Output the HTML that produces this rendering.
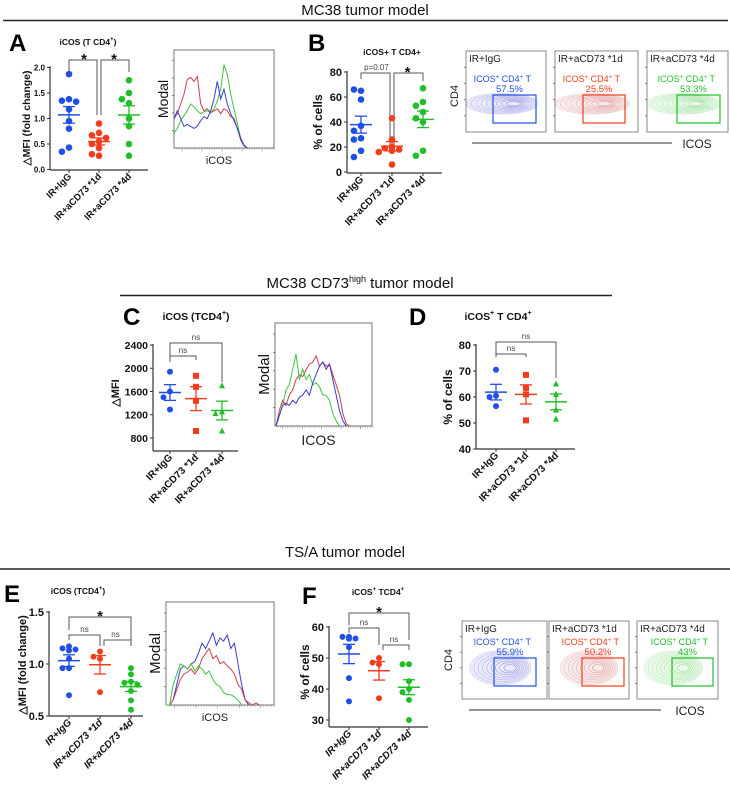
<!DOCTYPE html>
<html><head><meta charset="utf-8"><style>
html,body{margin:0;padding:0;background:#fff;}
svg{display:block;font-family:"Liberation Sans",Arial,sans-serif;}
</style></head><body>
<svg id="fig" width="730" height="789" viewBox="0 0 730 789" xmlns="http://www.w3.org/2000/svg">
<g>
<text x="365" y="15" font-size="15" text-anchor="middle" fill="#111">MC38 tumor model</text>
<line x1="3" y1="20.5" x2="728" y2="20.5" stroke="#222" stroke-width="1.5"/>
</g>
<g>
<text x="360" y="288" font-size="15" text-anchor="middle" fill="#111">MC38 CD73<tspan font-size="9" dy="-6">high</tspan><tspan dy="6"> tumor model</tspan></text>
<line x1="120" y1="295.5" x2="612" y2="295.5" stroke="#222" stroke-width="1.5"/>
</g>
<g>
<text x="345" y="557" font-size="15" text-anchor="middle" fill="#111">TS/A tumor model</text>
<line x1="0" y1="569" x2="730" y2="569" stroke="#222" stroke-width="1.5"/>
</g>
<g font-weight="bold" font-size="24" fill="#000">
<text x="9" y="51">A</text><text x="308" y="51">B</text>
<text x="123" y="325">C</text><text x="409" y="325">D</text>
<text x="4" y="602">E</text><text x="302" y="604">F</text>
</g>
</svg>
<script>
// ---- Data ----
const categories = ["IR+IgG","IR+aCD73 *1d","IR+aCD73 *4d"];
const aBlue=[1.87,1.38,1.35,1.33,1.18,0.95,0.8,0.43,0.35];
const aRed=[0.9,0.72,0.67,0.62,0.55,0.5,0.42,0.3,0.27];
const aGreen=[1.75,1.5,1.38,1.3,1.0,0.85,0.5,0.27];
const aTicks=["0.0","0.5","1.0","1.5","2.0"];
const bBlue=[65,66,58,37,33,27,26,17,12];
const bRed=[43,26,20,19,18,17,16,6];
const bGreen=[67,56,53,48,43,40,17,13];
const bTicks=["0","20","40","60","80"];
const cBlue=[1940,1600,1500,1290];
const cRed=[1870,1680,1440,920];
const cGreen=[1700,1250,1220,920];
const cTicks=["800","1200","1600","2000","2400"];
const dBlue=[70.5,60.5,60,56.5];
const dRed=[68.5,63.5,61,51];
const dGreen=[65,61,55,51.5];
const dTicks=["40","50","60","70","80"];
const eBlue=[1.17,1.15,1.14,1.13,1.05,0.96,0.96,0.7];
const eRed=[1.12,1.07,1.05,0.73];
const eGreen=[0.96,0.9,0.83,0.82,0.8,0.74,0.65,0.56];
const eTicks=["0.5","1.0","1.5"];
const fBlue=[56.8,56.8,56.3,56.2,53.5,43.5,36];
const fRed=[50,48.5,48,37];
const fGreen=[48,48,42.5,40,39,36.5,30];
const fTicks=["30","40","50","60"];
// histogram heights (fraction of modal) per fluorescence bin
const histARed=[.3,.35,.45,.55,.7,.72,.68,.73,.45,.38,.4,.36,.38,.4,.35,.4,.38,.32,.3,.2,.08,.02,0];
const histAGreen=[.15,.2,.28,.33,.38,.45,.42,.38,.35,.37,.38,.36,.4,.48,.6,.85,.75,.55,.4,.25,.1,.03,0];
const histABlue=[.3,.38,.3,.22,.24,.22,.2,.22,.28,.32,.3,.38,.5,.68,.5,.6,.45,.35,.28,.2,.1,.03,0];
const histCRed=[0,.15,.25,.2,.3,.35,.45,.5,.48,.55,.6,.62,.68,.58,.62,.58,.6,.5,.4,.3,.12,.02,0];
const histCGreen=[0,.1,.2,.35,.4,.55,.7,.45,.55,.45,.5,.4,.42,.38,.3,.3,.25,.12,.05,0];
const histCBlue=[0,.1,.2,.22,.2,.25,.22,.28,.3,.35,.3,.42,.5,.58,.62,.55,.6,.45,.3,.15,.05,0];
const histEBlue=[0,0,.05,.2,.35,.38,.35,.4,.42,.5,.6,.55,.62,.7,.58,.65,.62,.68,.55,.6,.4,.2,.05,0];
const histERed=[0,0,.05,.15,.25,.3,.32,.35,.3,.35,.45,.5,.55,.45,.48,.4,.42,.38,.35,.3,.2,.15,.05,.02,0,.02,0];
const histEGreen=[0,0,.2,.3,.4,.38,.35,.4,.33,.38,.35,.3,.33,.25,.2,.18,.12,.1,.1,.08,.05,0];
const flowPctB=["57.5%","25.5%","53.3%"];
const flowPctF=["55.9%","50.2%","43%"];

const NS="http://www.w3.org/2000/svg";
const svg=document.getElementById('fig');
const COLORS=["#1f4fe6","#f23c1c","#1fbf2a"];
const HCOL=["#3b3bd0","#c8414a","#3fc23f"];
function mk(tag,attrs,parent){const e=document.createElementNS(NS,tag);for(const k in attrs)e.setAttribute(k,attrs[k]);(parent||svg).appendChild(e);return e;}
function txt(s,attrs,parent){const e=mk('text',attrs,parent);e.textContent=s;return e;}

function scatter(cfg){
  const g=mk('g',{});
  
  
  const ys=v=>cfg.y0+(v-cfg.vmin)/(cfg.vmax-cfg.vmin)*(cfg.y1-cfg.y0);
  const xs=i=>cfg.cx0+i*cfg.dx;
  const ax=mk('line',{x1:cfg.ax,y1:cfg.axTop,x2:cfg.ax,y2:cfg.axBot,stroke:'#333','stroke-width':1.2},g);
  
  
  const bx=mk('line',{x1:cfg.ax,y1:cfg.axBot,x2:cfg.axRight,y2:cfg.axBot,stroke:'#333','stroke-width':1.2},g);
  
  
  cfg.ticks.forEach(t=>{
    const v=parseFloat(t),y=ys(v);
    mk('line',{x1:cfg.ax-3,y1:y,x2:cfg.ax,y2:y,stroke:'#333','stroke-width':1},g);
    const tl=txt(t,{x:cfg.ax-5,y:y+cfg.tfs*0.36,'font-size':cfg.tfs,'font-weight':'bold','text-anchor':'end',fill:'#111'},g);
    
    
  });
  categories.forEach((c,i)=>{
    const x=xs(i);
    mk('line',{x1:x,y1:cfg.axBot,x2:x,y2:cfg.axBot+3,stroke:'#333','stroke-width':1},g);
    const tx=x+3,ty=cfg.axBot+7;
    const cl=txt(c,{x:tx,y:ty,'font-size':cfg.cfs,'font-weight':'bold','text-anchor':'end',fill:'#111','font-style':cfg.italic?'italic':'normal',transform:`rotate(-45 ${tx} ${ty})`},g);
    
    
  });
  const yt=txt(cfg.ytitle,{x:0,y:0,'font-size':cfg.yfs,'font-weight':'bold','text-anchor':'middle',fill:'#111',transform:`translate(${cfg.ytx} ${cfg.yty}) rotate(-90)`},g);
  
  
  const ti=mk('text',{x:cfg.titleX,y:cfg.titleY,'font-size':cfg.titleFs,'font-weight':'bold','text-anchor':'middle',fill:'#111'},g);
  ti.innerHTML=cfg.title;
  
  
  cfg.brackets.forEach(b=>{
    const p=mk('path',{d:`M${xs(b.i)+(b.o1||0)} ${b.yl} V${b.top} H${xs(b.j)+(b.o2||0)} V${b.yr}`,fill:'none',stroke:'#555','stroke-width':1},g);
    
    
    const lx=b.lx!==undefined?b.lx:(xs(b.i)+xs(b.j))/2;
    const bl=txt(b.label,{x:lx,y:b.top-(b.label==='*'?-4:3),'font-size':b.label==='*'?15:b.fs||8,'font-weight':b.label==='*'?'bold':'normal','text-anchor':'middle',fill:b.label==='*'?'#111':'#444'},g);
    
    
  });
  cfg.series.forEach((arr,i)=>{
    const sg=mk('g',{},g);
    
    
    const col=COLORS[i],cx=xs(i),placed=[];
    const r=cfg.r;
    arr.forEach(v=>{
      const y=ys(v);let off=0;
      const cands=[0,-2*r-0.5,2*r+0.5,-r-0.3,r+0.3,-4*r,4*r];
      for(const o of cands){if(placed.every(p=>Math.hypot(p[0]-(cx+o),p[1]-y)>=2*r)){off=o;break;}}
      placed.push([cx+off,y]);
      let m;
      const shape=cfg.shapes?cfg.shapes[i]:'c';
      if(shape==='s')m=mk('rect',{x:cx+off-r,y:y-r,width:2*r,height:2*r,fill:col},sg);
      else if(shape==='t')m=mk('path',{d:`M${cx+off} ${y-r-0.5} L${cx+off+r} ${y+r-0.5} L${cx+off-r} ${y+r-0.5}Z`,fill:col},sg);
      else m=mk('circle',{cx:cx+off,cy:y,r:r,fill:col},sg);
      
      
    });
    const n=arr.length,mean=arr.reduce((a,b)=>a+b,0)/n;
    const sd=Math.sqrt(arr.reduce((a,b)=>a+(b-mean)*(b-mean),0)/(n-1)),sem=sd/Math.sqrt(n);
    const ym=ys(mean),yh=ys(mean+sem),yl=ys(mean-sem);
    const ml=mk('line',{x1:cx-cfg.mw,y1:ym,x2:cx+cfg.mw,y2:ym,stroke:col,'stroke-width':1.5},sg);
    
    
    mk('line',{x1:cx,y1:yh,x2:cx,y2:yl,stroke:col,'stroke-width':1.3},sg);
    mk('line',{x1:cx-cfg.mw*0.55,y1:yh,x2:cx+cfg.mw*0.55,y2:yh,stroke:col,'stroke-width':1.3},sg);
    mk('line',{x1:cx-cfg.mw*0.55,y1:yl,x2:cx+cfg.mw*0.55,y2:yl,stroke:col,'stroke-width':1.3},sg);
  });
}

function histo(cfg){
  const g=mk('g',{});
  
  
  const w=cfg.x1-cfg.x0,h=cfg.y1-cfg.y0;
  const b=mk('rect',{x:cfg.x0,y:cfg.y0,width:w,height:h,fill:'none',stroke:'#777','stroke-width':1},g);
  
  
  for(let k=1;k<6;k++){const y=cfg.y1-k*h/5.6;mk('line',{x1:cfg.x0-2,y1:y,x2:cfg.x0,y2:y,stroke:'#777'},g);}
  for(let k=0;k<40;k++){const x=cfg.x0+3+k*w/40;mk('line',{x1:x,y1:cfg.y1,x2:x,y2:cfg.y1+(k%8===2?3:1.5),stroke:'#777','stroke-width':0.6},g);}
  const xs=i=>cfg.x0+cfg.start*w+i*w/cfg.bins;
  const ys=v=>cfg.y1-v*h;
  cfg.series.forEach((arr,si)=>{
    const d=arr.map((v,i)=>(i?'L':'M')+xs(i).toFixed(1)+' '+ys(v).toFixed(1)).join(' ');
    const p=mk('path',{d:d,fill:'none',stroke:HCOL[cfg.order[si]],'stroke-width':1},g);
    
    
  });
  const m=txt('Modal',{x:0,y:0,'font-size':cfg.mfs,'text-anchor':'middle',fill:'#111',transform:`translate(${cfg.x0-6} ${(cfg.y0+cfg.y1)/2}) rotate(-90)`},g);
  
  
  const xl=txt(cfg.xlabel,{x:(cfg.x0+cfg.x1)/2-5,y:cfg.y1+cfg.xfs+5,'font-size':cfg.xfs,'text-anchor':'middle',fill:'#222'},g);
  
  
}

function flow(cfg){
  const g=mk('g',{});
  
  
  const names=["IR+IgG","IR+aCD73 *1d","IR+aCD73 *4d"];
  cfg.boxes.forEach((bx,i)=>{
    const [x0,x1]=bx,y0=cfg.y0,y1=cfg.y1,col=HCOL[i];
    const pg=mk('g',{},g);
    
    
    mk('rect',{x:x0,y:y0,width:x1-x0,height:y1-y0,fill:'#fff',stroke:'#888','stroke-width':1},pg);
    for(let k=1;k<5;k++){mk('line',{x1:x0-2,y1:y0+k*(y1-y0)/5,x2:x0,y2:y0+k*(y1-y0)/5,stroke:'#777'},pg);}
    const ecx=x0+(x1-x0)*cfg.ecx[i],ecy=y0+(y1-y0)*cfg.ecy,rx=(x1-x0)*cfg.erx,ry=(y1-y0)*cfg.ery;
    mk('ellipse',{cx:ecx,cy:ecy,rx:rx,ry:ry,fill:col,'fill-opacity':0.1,stroke:'none'},pg);
    for(let k=0;k<9;k++){
      const s=1-k*0.1;
      mk('ellipse',{cx:ecx+(1-s)*rx*0.4,cy:ecy,rx:rx*s,ry:ry*s,fill:'none',stroke:col,'stroke-width':0.6,'stroke-opacity':0.2+k*0.04},pg);
    }
    const gx0=cfg.gates[i][0],gx1=cfg.gates[i][1];
    const gate=mk('rect',{x:gx0,y:cfg.gy0,width:gx1-gx0,height:cfg.gy1-cfg.gy0,fill:'none',stroke:COLORS[i],'stroke-width':1.2},pg);
    
    
    txt(names[i],{x:x0+3,y:y0+11,'font-size':10,fill:'#222'},pg);
    const gl=mk('text',{x:gx1-5,y:cfg.ty,'font-size':9,'text-anchor':'end',fill:COLORS[i]},pg);
    gl.innerHTML='ICOS<tspan font-size="6" dy="-3">+</tspan><tspan dy="3"> CD4</tspan><tspan font-size="6" dy="-3">+</tspan><tspan dy="3"> T</tspan>';
    txt(cfg.pcts[i],{x:(gx0+gx1)/2-5,y:cfg.ty+10,'font-size':9.5,'text-anchor':'middle',fill:COLORS[i]},pg);
  });
  mk('line',{x1:cfg.lx0,y1:cfg.ly,x2:cfg.lx1,y2:cfg.ly,stroke:'#555','stroke-width':1.2},g);
  txt('ICOS',{x:cfg.icx,y:cfg.ly+5,'font-size':12,'text-anchor':'middle',fill:'#222'},g);
  txt('CD4',{x:0,y:0,'font-size':11,'text-anchor':'middle',fill:'#222',transform:`translate(${cfg.cdx} ${cfg.cdy}) rotate(-90)`},g);
}

// Panel A
scatter({name:'chart-a',series:[aBlue,aRed,aGreen],ticks:aTicks,vmin:0,vmax:2,y0:169.5,y1:67.5,cx0:69,dx:30,ax:50,axTop:66,axBot:170,axRight:148,tfs:8,cfs:9.5,r:3.3,mw:11,
  ytitle:'△MFI (fold change)',yfs:10.5,ytx:30,yty:118,title:'iCOS (T CD4<tspan font-size="6" dy="-4">+</tspan><tspan dy="4">)</tspan>',titleX:88,titleY:45,titleFs:8.5,
  brackets:[{i:0,j:1,top:60,yl:72,yr:115,label:'*',o2:-2},{i:1,j:2,top:60,yl:115,yr:72,label:'*',o1:2}]});
histo({name:'histogram-a',x0:174,x1:274,y0:50,y1:148,bins:30,start:0,series:[histARed,histAGreen,histABlue],order:[1,2,0],mfs:14,xfs:11,xlabel:'iCOS'});
// Panel B
scatter({name:'chart-b',series:[bBlue,bRed,bGreen],ticks:bTicks,vmin:0,vmax:80,y0:172,y1:72,cx0:361,dx:31,ax:347,axTop:71,axBot:173,axRight:442,tfs:11,cfs:10,r:3.3,mw:11,
  ytitle:'% of cells',yfs:12,ytx:322,yty:122,title:'iCOS+ T CD4+',titleX:392,titleY:55,titleFs:8.5,
  brackets:[{i:0,j:1,top:73,yl:79,yr:150,label:'p=0.07',o2:-2},{i:1,j:2,top:73,yl:150,yr:81,label:'*',o1:2}]});
flow({name:'flow-b',boxes:[[466,546],[555,638],[647,728]],y0:51,y1:132,gates:[[493,536],[583,625],[677,720]],gy0:95,gy1:123,ty:82,pcts:flowPctB,
  ecx:[0.45,0.45,0.45],ecy:0.65,erx:0.45,ery:0.13,lx0:472,lx1:672,ly:143,icx:697,cdx:458,cdy:96});
// Panel C
scatter({name:'chart-c',series:[cBlue,cRed,cGreen],ticks:cTicks,vmin:800,vmax:2400,y0:438,y1:345,cx0:170,dx:26,ax:153,axTop:344,axBot:451,axRight:238,tfs:10.5,cfs:10,r:3,mw:11,shapes:['c','s','t'],
  ytitle:'△MFI',yfs:11,ytx:119,yty:393,title:'iCOS (TCD4<tspan font-size="7" dy="-5">+</tspan><tspan dy="5">)</tspan>',titleX:196,titleY:320,titleFs:10.5,
  brackets:[{i:0,j:2,top:343,yl:362,yr:382,label:'ns'},{i:0,j:1,top:356,yl:360,yr:360,label:'ns'}]});
histo({name:'histogram-c',x0:275,x1:372,y0:323,y1:426,bins:29,start:0.01,series:[histCRed,histCGreen,histCBlue],order:[1,2,0],mfs:15,xfs:14,xlabel:'ICOS'});
// Panel D
scatter({name:'chart-d',series:[dBlue,dRed,dGreen],ticks:dTicks,vmin:40,vmax:80,y0:449,y1:345,cx0:496,dx:30,ax:476,axTop:344,axBot:449,axRight:575,tfs:11,cfs:10,r:3,mw:11,shapes:['c','s','t'],
  ytitle:'% of cells',yfs:12,ytx:452,yty:397,title:'iCOS<tspan font-size="7" dy="-5">+</tspan><tspan dy="5"> T CD4</tspan><tspan font-size="7" dy="-5">+</tspan>',titleX:498,titleY:320,titleFs:10.5,
  brackets:[{i:0,j:2,top:342,yl:355,yr:378,label:'ns'},{i:0,j:1,top:354,yl:357,yr:357,label:'ns'}]});
// Panel E
scatter({name:'chart-e',series:[eBlue,eRed,eGreen],ticks:eTicks,vmin:0.5,vmax:1.5,y0:716,y1:612,cx0:69,dx:31,ax:49,axTop:611,axBot:716,axRight:143,tfs:11,cfs:10,r:3,mw:11,italic:true,
  ytitle:'△MFI (fold change)',yfs:11,ytx:26,yty:665,title:'iCOS (TCD4<tspan font-size="6" dy="-4">+</tspan><tspan dy="4">)</tspan>',titleX:78,titleY:594,titleFs:8.5,
  brackets:[{i:0,j:2,top:617,yl:630,yr:646,label:'*'},{i:0,j:1,top:635,yl:640,yr:646,label:'ns'},{i:1,j:2,top:640,yl:646,yr:646,label:'ns',o1:4}]});
histo({name:'histogram-e',x0:166,x1:274,y0:602,y1:705,bins:30,start:0,series:[histEBlue,histERed,histEGreen],order:[0,1,2],mfs:15,xfs:11,xlabel:'iCOS'});
// Panel F
scatter({name:'chart-f',series:[fBlue,fRed,fGreen],ticks:fTicks,vmin:30,vmax:60,y0:720,y1:627,cx0:349,dx:30,ax:329,axTop:626,axBot:727,axRight:428,tfs:11,cfs:10,r:3,mw:11,italic:true,
  ytitle:'% of cells',yfs:12,ytx:309,yty:672,title:'iCOS<tspan font-size="6" dy="-4">+</tspan><tspan dy="4"> TCD4</tspan><tspan font-size="6" dy="-4">+</tspan>',titleX:378,titleY:595,titleFs:8.5,
  brackets:[{i:0,j:2,top:613,yl:625,yr:640,label:'*'},{i:0,j:1,top:628,yl:633,yr:645,label:'ns'},{i:1,j:2,top:645,yl:650,yr:650,label:'ns',o1:4}]});
flow({name:'flow-f',boxes:[[462,547],[549,629],[637,718]],y0:621,y1:699,gates:[[494,536],[582,624],[672,713]],gy0:658,gy1:686,ty:645,pcts:flowPctF,
  ecx:[0.45,0.5,0.45],ecy:0.6,erx:0.36,ery:0.22,lx0:469,lx1:661,ly:710,icx:690,cdx:452,cdy:660});
</script>
</body></html>
